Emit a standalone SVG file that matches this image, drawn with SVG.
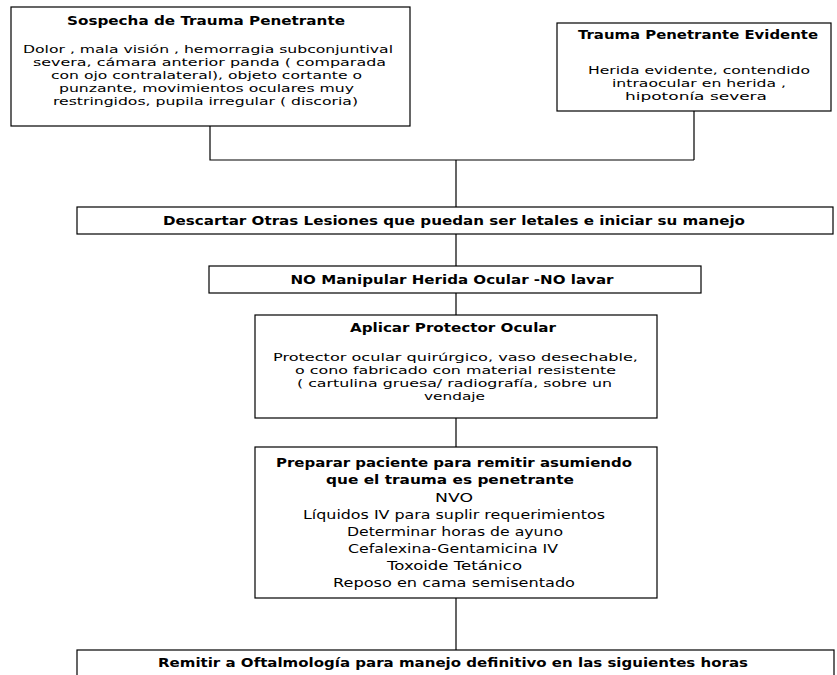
<svg xmlns="http://www.w3.org/2000/svg" width="837" height="675" viewBox="0 0 837 675">
<style>
.box{fill:#fff;stroke:#000;stroke-width:1.2}
.t{font-family:"DejaVu Sans","Liberation Sans",sans-serif;font-size:12.5px;font-weight:bold;text-anchor:middle;fill:#000}
.b{font-family:"DejaVu Sans","Liberation Sans",sans-serif;font-size:11px;text-anchor:middle;fill:#000}
.b2{font-family:"DejaVu Sans","Liberation Sans",sans-serif;font-size:13px;text-anchor:middle;fill:#000}
.c{fill:none;stroke:#000;stroke-width:1.2}
</style>
<rect width="837" height="675" fill="#fff"/>
<g id="connectors">
<path class="c" d="M210,126 V160 H694 M694,111 V160 M456,160 V207 M456,234 V266 M456,293 V315 M456,418 V447 M456,598 V650"/>
</g>
<g id="n1">
<rect class="box" x="11" y="7" width="399" height="119"/>
<text class="t" x="206" y="25" textLength="278" lengthAdjust="spacingAndGlyphs">Sospecha de Trauma Penetrante</text>
<text class="b" x="208" y="53" textLength="370" lengthAdjust="spacingAndGlyphs">Dolor , mala visión , hemorragia subconjuntival</text>
<text class="b" x="209.5" y="66" textLength="353" lengthAdjust="spacingAndGlyphs">severa, cámara anterior panda ( comparada</text>
<text class="b" x="206.5" y="79" textLength="311" lengthAdjust="spacingAndGlyphs">con ojo contralateral), objeto cortante o</text>
<text class="b" x="206.5" y="92" textLength="295" lengthAdjust="spacingAndGlyphs">punzante, movimientos oculares muy</text>
<text class="b" x="205.5" y="105" textLength="305" lengthAdjust="spacingAndGlyphs">restringidos, pupila irregular ( discoria)</text>
</g>
<g id="n2">
<rect class="box" x="557" y="23" width="274" height="88"/>
<text class="t" x="698" y="39" textLength="240" lengthAdjust="spacingAndGlyphs">Trauma Penetrante Evidente</text>
<text class="b" x="699" y="74" textLength="222" lengthAdjust="spacingAndGlyphs">Herida evidente, contendido</text>
<text class="b" x="699" y="87" textLength="174" lengthAdjust="spacingAndGlyphs">intraocular en herida ,</text>
<text class="b" x="696" y="100" textLength="142" lengthAdjust="spacingAndGlyphs">hipotonía severa</text>
</g>
<g id="n3">
<rect class="box" x="77" y="207" width="756" height="27"/>
<text class="t" x="454" y="225" textLength="582" lengthAdjust="spacingAndGlyphs">Descartar Otras Lesiones que puedan ser letales e iniciar su manejo</text>
</g>
<g id="n4">
<rect class="box" x="209" y="266" width="492" height="27"/>
<text class="t" x="452" y="284" textLength="323" lengthAdjust="spacingAndGlyphs">NO Manipular Herida Ocular -NO lavar</text>
</g>
<g id="n5">
<rect class="box" x="255" y="315" width="402" height="103"/>
<text class="t" x="453" y="332" textLength="206" lengthAdjust="spacingAndGlyphs">Aplicar Protector Ocular</text>
<text class="b" x="455.5" y="361" textLength="365" lengthAdjust="spacingAndGlyphs">Protector ocular quirúrgico, vaso desechable,</text>
<text class="b" x="455.5" y="374" textLength="321" lengthAdjust="spacingAndGlyphs">o cono fabricado con material resistente</text>
<text class="b" x="454.5" y="387" textLength="315" lengthAdjust="spacingAndGlyphs">( cartulina gruesa/ radiografía, sobre un</text>
<text class="b" x="454.5" y="400" textLength="61" lengthAdjust="spacingAndGlyphs">vendaje</text>
</g>
<g id="n6">
<rect class="box" x="255" y="447" width="402" height="151"/>
<text class="t" x="454" y="467" textLength="356" lengthAdjust="spacingAndGlyphs">Preparar paciente para remitir asumiendo</text>
<text class="t" x="450" y="484" textLength="248" lengthAdjust="spacingAndGlyphs">que el trauma es penetrante</text>
<text class="b2" x="454" y="502" textLength="38" lengthAdjust="spacingAndGlyphs">NVO</text>
<text class="b2" x="454" y="519" textLength="302" lengthAdjust="spacingAndGlyphs">Líquidos IV para suplir requerimientos</text>
<text class="b2" x="455" y="536" textLength="216" lengthAdjust="spacingAndGlyphs">Determinar horas de ayuno</text>
<text class="b2" x="453" y="553" textLength="210" lengthAdjust="spacingAndGlyphs">Cefalexina-Gentamicina IV</text>
<text class="b2" x="454.5" y="570" textLength="135" lengthAdjust="spacingAndGlyphs">Toxoide Tetánico</text>
<text class="b2" x="454" y="587" textLength="242" lengthAdjust="spacingAndGlyphs">Reposo en cama semisentado</text>
</g>
<g id="n7">
<rect class="box" x="77" y="650" width="757" height="40"/>
<text class="t" x="453" y="667" textLength="590" lengthAdjust="spacingAndGlyphs">Remitir a Oftalmología para manejo definitivo en las siguientes horas</text>
</g>
</svg>
